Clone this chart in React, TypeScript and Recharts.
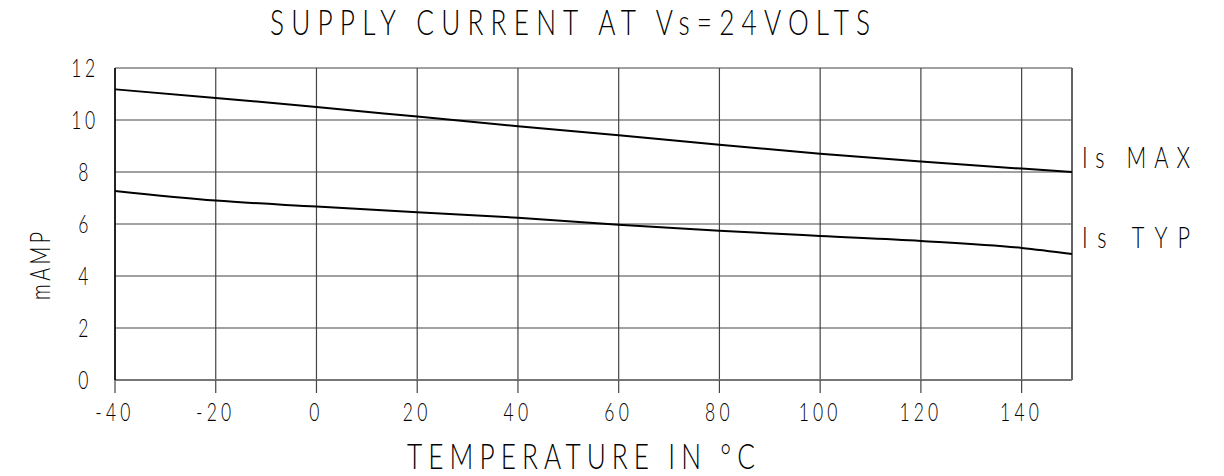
import React from 'react';
import { LineChart, Line, XAxis, YAxis, CartesianGrid, ReferenceLine } from 'recharts';

// temperature (°C) vs supply current (mA) at Vs = 24 V
const temps = [-40, -20, 0, 20, 40, 60, 80, 100, 120, 140, 150];
const isMax = [11.18, 10.85, 10.5, 10.13, 9.76, 9.41, 9.05, 8.7, 8.4, 8.13, 8.0];
const isTyp = [7.27, 6.9, 6.67, 6.45, 6.24, 5.97, 5.74, 5.54, 5.35, 5.08, 4.85];

const xTicks = [-40, -20, 0, 20, 40, 60, 80, 100, 120, 140];
const yTicks = [0, 2, 4, 6, 8, 10, 12];

const data = temps.map((t, i) => ({ t, max: isMax[i], typ: isTyp[i] }));

const FONT = 'Lato, "DejaVu Sans", sans-serif';

// thin, condensed drafting-style text
const T = ({ x, y, size, children, anchor = 'middle', len, spacing = 0, rotate = 0, sx = 0.7 }: any) => (
  <text
    transform={`translate(${x} ${y}) rotate(${rotate}) scale(${sx} 1)`}
    textAnchor={anchor}
    fontSize={size}
    letterSpacing={spacing}
    textLength={len ? len / sx : undefined}
    lengthAdjust={len ? 'spacing' : undefined}
    style={{ fontFamily: FONT, fontWeight: 300, fill: '#000' }}
  >
    {children}
  </text>
);

const YTick = ({ y, payload }: any) => (
  <T x={85} y={y + 9} size={25} spacing={5}>
    {payload.value}
  </T>
);

const XTick = ({ x, y, payload }: any) => (
  <T x={x} y={y + 26} size={25} spacing={6}>
    {payload.value}
  </T>
);

const endLabel = (text: string, dy: number) => (props: any) => {
  const { x, y, index } = props;
  if (index !== temps.length - 1) return null;
  return (
    <T x={x + 10} y={y + dy} size={29} anchor="start" len={108} sx={0.75}>
      {text}
    </T>
  );
};

export default function App() {
  return (
    <div style={{ position: 'absolute', left: 0, top: 0, width: 1224, height: 476, background: '#fff' }}>
      <LineChart width={1224} height={476} data={data} margin={{ top: 68, right: 152, bottom: 66, left: 0 }}>
        <T x={570} y={35} size={35} len={600} sx={0.75}>
          SUPPLY CURRENT AT Vs=24VOLTS
        </T>
        <T x={581} y={469} size={35} len={348} sx={0.75}>
          TEMPERATURE IN °C
        </T>
        <T x={50} y={266} size={28} len={68} rotate={-90}>
          mAMP
        </T>
        <CartesianGrid stroke="#444" strokeWidth={1.2} />
        <XAxis
          dataKey="t"
          type="number"
          domain={[-40, 150]}
          ticks={xTicks}
          interval={0}
          height={30}
          tickSize={13}
          tickLine={{ stroke: '#444', strokeWidth: 1.2 }}
          axisLine={{ stroke: '#777', strokeWidth: 2 }}
          tick={<XTick />}
        />
        <YAxis
          type="number"
          domain={[0, 12]}
          ticks={yTicks}
          interval={0}
          width={115}
          tickLine={false}
          axisLine={{ stroke: '#000', strokeWidth: 1.5 }}
          tick={<YTick />}
        />
        <ReferenceLine x={150} stroke="#555" strokeWidth={1.5} />
        <Line
          dataKey="max"
          type="monotone"
          stroke="#000"
          strokeWidth={2}
          dot={false}
          isAnimationActive={false}
          label={endLabel('Is MAX', -4)}
        />
        <Line
          dataKey="typ"
          type="monotone"
          stroke="#000"
          strokeWidth={2}
          dot={false}
          isAnimationActive={false}
          label={endLabel('Is TYP', -6)}
        />
      </LineChart>
    </div>
  );
}
